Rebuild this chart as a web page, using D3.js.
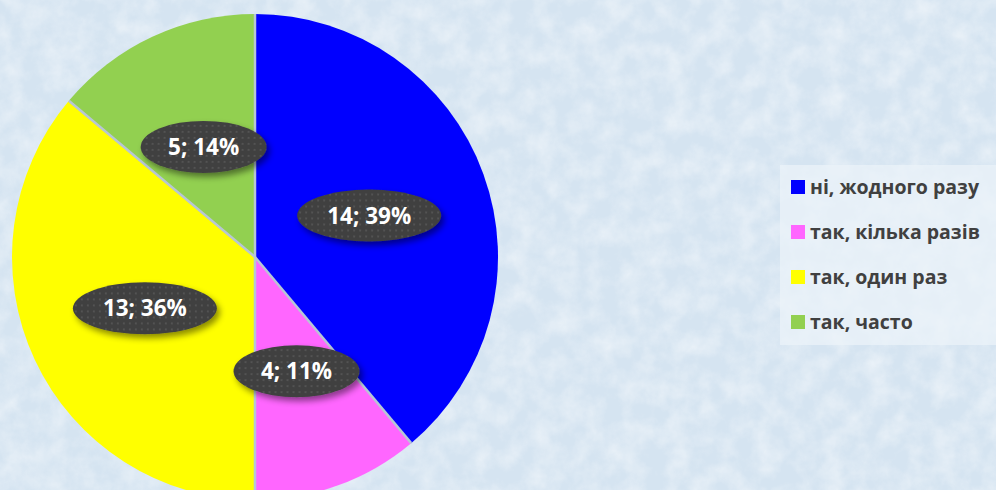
<!DOCTYPE html>
<html>
<head>
<meta charset="utf-8">
<script src="https://cdn.jsdelivr.net/npm/d3@7"></script>
<style>
  body { margin: 0; overflow: hidden; }
  svg { display: block; }
</style>
</head>
<body>
<svg id="chart" width="996" height="490"></svg>
<script>
// answers and counts
var categories = ["ні, жодного разу", "так, кілька разів", "так, один раз", "так, часто"];
var counts = [14, 4, 13, 5];
var percents = ["39%", "11%", "36%", "14%"];
var colors = ["#0000ff", "#ff66ff", "#ffff00", "#92d050"];

var width = 996, height = 490;
var svg = d3.select("#chart");
var defs = svg.append("defs");

// frosted background texture
var tex = defs.append("filter").attr("id", "frost")
    .attr("x", 0).attr("y", 0).attr("width", "100%").attr("height", "100%");
tex.append("feTurbulence").attr("type", "fractalNoise")
    .attr("baseFrequency", 0.045).attr("numOctaves", 4).attr("seed", 7);
tex.append("feColorMatrix").attr("type", "matrix")
    .attr("values", "0 0 0 0 1  0 0 0 0 1  0 0 0 0 1  0 0 0 1.4 -0.45");

var shadow = defs.append("filter").attr("id", "shadow")
    .attr("x", "-20%").attr("y", "-30%").attr("width", "150%").attr("height", "180%");
shadow.append("feDropShadow").attr("dx", 3).attr("dy", 4)
    .attr("stdDeviation", 3).attr("flood-color", "#000").attr("flood-opacity", 0.45);

var dots = defs.append("pattern").attr("id", "dots")
    .attr("width", 6).attr("height", 6).attr("patternUnits", "userSpaceOnUse");
dots.append("rect").attr("width", 6).attr("height", 6).attr("fill", "#404040");
dots.append("circle").attr("cx", 3).attr("cy", 3).attr("r", 0.9).attr("fill", "#5a5a5a");

svg.append("rect").attr("width", width).attr("height", height).attr("fill", "#d5e4f1");
svg.append("rect").attr("width", width).attr("height", height)
    .attr("filter", "url(#frost)").attr("opacity", 0.55);

// pie
var cx = 255, cy = 257, r = 243;
var pie = d3.pie().sort(null).value(function(d){ return d; });
var arcs = pie(counts);
var arc = d3.arc().innerRadius(0).outerRadius(r);

var g = svg.append("g").attr("transform", "translate(" + cx + "," + cy + ")");

g.selectAll("path.slice")
    .data(arcs)
    .enter()
    .append("path")
    .attr("class", "slice")
    .attr("d", arc)
    .attr("fill", function(d, i){ return colors[i]; });

// separators between slices only (no outer rim)
g.selectAll("line.sep")
    .data(arcs)
    .enter()
    .append("line")
    .attr("class", "sep")
    .attr("x1", 0).attr("y1", 0)
    .attr("x2", function(d){ return r * Math.sin(d.startAngle); })
    .attr("y2", function(d){ return -r * Math.cos(d.startAngle); })
    .attr("stroke", "#b7c6d5")
    .attr("stroke-width", 2.5);

// data labels in dark ellipses
var labels = g.selectAll("g.label")
    .data(arcs)
    .enter()
    .append("g")
    .attr("class", "label")
    .attr("transform", function(d){
        var c = arc.centroid(d);
        return "translate(" + c[0] + "," + c[1] + ")";
    });

labels.append("ellipse")
    .attr("rx", function(d, i){ return counts[i] >= 10 ? 72 : 63; })
    .attr("ry", 26)
    .attr("fill", "url(#dots)")
    .attr("filter", "url(#shadow)");

labels.append("text")
    .attr("text-anchor", "middle")
    .attr("dy", "0.36em")
    .attr("fill", "#ffffff")
    .attr("font-family", "'Open Sans', sans-serif")
    .attr("font-weight", "bold")
    .attr("font-size", 22.5)
    .text(function(d, i){ return counts[i] + "; " + percents[i]; });

// legend
var legend = svg.append("g").attr("transform", "translate(780,165)");
legend.append("rect")
    .attr("width", 216).attr("height", 180)
    .attr("fill", "#edf3f9").attr("opacity", 0.7);

var items = legend.selectAll("g.item")
    .data(categories)
    .enter()
    .append("g")
    .attr("class", "item")
    .attr("transform", function(d, i){ return "translate(11," + (22 + i * 45) + ")"; });

items.append("rect")
    .attr("y", -7).attr("width", 14).attr("height", 14)
    .attr("fill", function(d, i){ return colors[i]; });

items.append("text")
    .attr("x", 19)
    .attr("dy", "0.35em")
    .attr("fill", "#404040")
    .attr("font-family", "'Open Sans', sans-serif")
    .attr("font-weight", "bold")
    .attr("font-size", 19.5)
    .text(function(d){ return d; });
</script>
</body>
</html>
